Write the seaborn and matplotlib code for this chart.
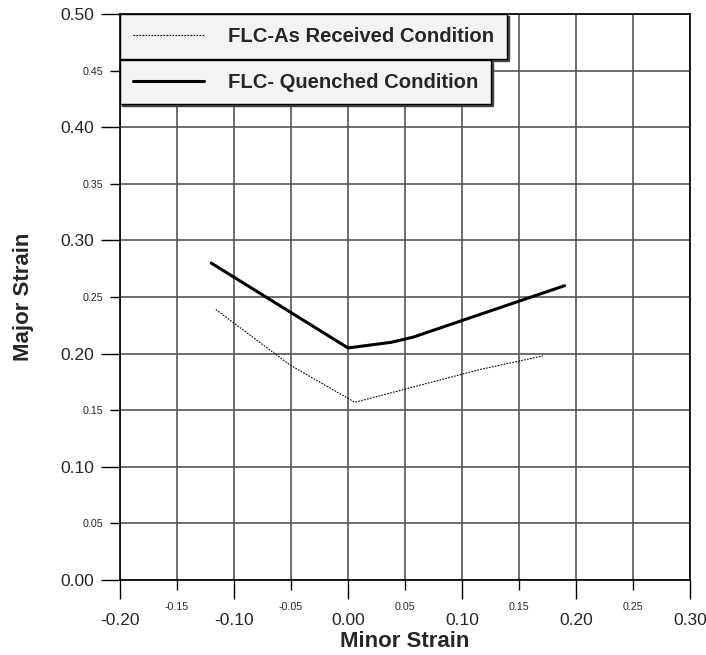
import pandas as pd
import matplotlib.pyplot as plt
import seaborn as sns
from matplotlib.ticker import MultipleLocator, FormatStrFormatter

# Estilo base
sns.set_theme(style="white")
plt.rcParams['font.family'] = ['Liberation Sans', 'DejaVu Sans']

# Datos
as_received_minor = [-0.116, -0.051, 0.006, 0.116, 0.171]
as_received_major = [0.239, 0.190, 0.157, 0.186, 0.198]

quenched_minor = [-0.120, 0.000, 0.038, 0.057, 0.190]
quenched_major = [0.280, 0.205, 0.210, 0.2145, 0.260]

label_as_received = 'FLC-As Received Condition'
label_quenched = 'FLC- Quenched Condition'

df_ar = pd.DataFrame({'minor': as_received_minor, 'major': as_received_major})
df_q = pd.DataFrame({'minor': quenched_minor, 'major': quenched_major})

fig = plt.figure(figsize=(7.06, 6.55), dpi=100)
ax = fig.add_axes([0.170, 0.1145, 0.8073, 0.8641])

sns.lineplot(data=df_ar, x='minor', y='major', ax=ax, color='black',
             linewidth=0.8, linestyle=(0, (1.5, 1.2)), sort=False,
             label=label_as_received, legend=False)
sns.lineplot(data=df_q, x='minor', y='major', ax=ax, color='black',
             linewidth=2.2, sort=False, label=label_quenched, legend=False)

ax.set_xlim(-0.20, 0.30)
ax.set_ylim(0.0, 0.50)

ax.xaxis.set_major_locator(MultipleLocator(0.1))
ax.xaxis.set_minor_locator(MultipleLocator(0.05))
ax.yaxis.set_major_locator(MultipleLocator(0.1))
ax.yaxis.set_minor_locator(MultipleLocator(0.05))
ax.xaxis.set_major_formatter(FormatStrFormatter('%.2f'))
ax.xaxis.set_minor_formatter(FormatStrFormatter('%.2f'))
ax.yaxis.set_major_formatter(FormatStrFormatter('%.2f'))
ax.yaxis.set_minor_formatter(FormatStrFormatter('%.2f'))

ax.tick_params(which='major', direction='out', length=13.7, width=1.0,
               color='black', labelsize=12.5, pad=5, left=True, bottom=True)
ax.tick_params(which='minor', direction='out', length=7, width=1.0,
               color='black', labelsize=7.7, pad=5, left=True, bottom=True)
ax.tick_params(axis='x', which='major', pad=10)
ax.tick_params(axis='x', which='minor', pad=8.5)

ax.grid(True, which='both', color='#555555', linewidth=1.2)
ax.set_axisbelow(True)
for s in ax.spines.values():
    s.set_color('black')
    s.set_linewidth(1.2)

ax.set_xlabel('Minor Strain', fontsize=16, fontweight='bold', labelpad=2)
ax.set_ylabel('Major Strain', fontsize=16, fontweight='bold', labelpad=19)

# Dos recuadros de leyenda separados
h = ax.get_lines()
sombra = {'ox': 1.5, 'oy': -1.5, 'color': '#444444', 'alpha': 1}
leg1 = ax.legend([h[0]], [label_as_received], loc='upper left',
                 bbox_to_anchor=(0.0, 1.0), borderaxespad=0, fancybox=False,
                 shadow=sombra, framealpha=1, facecolor='#f3f3f3', edgecolor='black',
                 prop={'size': 14.6, 'weight': 'bold'}, handlelength=3.5,
                 handletextpad=1.2, borderpad=0.63)
leg1.get_frame().set_linewidth(1.0)
ax.add_artist(leg1)
leg2 = ax.legend([h[1]], [label_quenched], loc='upper left',
                 bbox_to_anchor=(0.0, 0.919), borderaxespad=0, fancybox=False,
                 shadow=sombra, framealpha=1, facecolor='#f3f3f3', edgecolor='black',
                 prop={'size': 14.6, 'weight': 'bold'}, handlelength=3.5,
                 handletextpad=1.2, borderpad=0.63)
leg2.get_frame().set_linewidth(1.0)

fig.savefig('out.png', dpi=100)
